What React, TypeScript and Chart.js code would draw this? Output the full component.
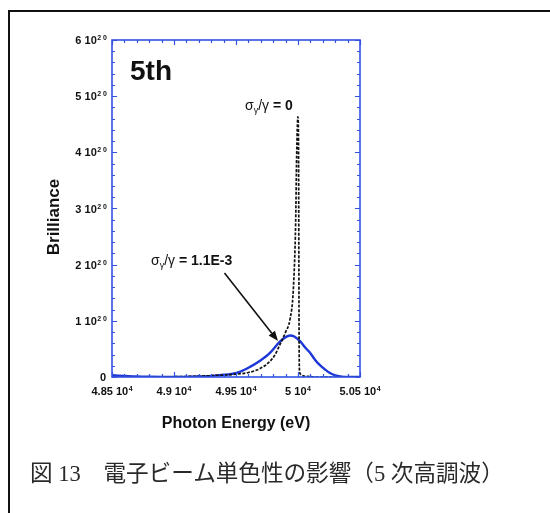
import React, { useEffect, useRef } from "react";
import { Chart, registerables } from "chart.js";

Chart.register(...registerables);

// Photon energy (eV) and brilliance (in units of 1e20) for sigma_gamma/gamma = 0
const energyIdeal = [48500, 48800, 49000, 49200, 49400, 49500, 49600, 49694, 49760, 49810, 49855, 49900, 49935, 49962, 49981, 49989, 49999, 50004, 50007, 50009, 50012, 50020, 50040, 50080, 50150, 50500];
const brillianceIdeal = [0, 0, 0.005, 0.015, 0.035, 0.05, 0.08, 0.15, 0.25, 0.38, 0.58, 0.8, 1.02, 1.55, 2.74, 3.92, 4.63, 4.2, 2.0, 0.6, 0.12, 0.05, 0.02, 0.01, 0, 0];

// sigma_gamma/gamma = 1.1E-3
const energySpread = [48500, 48600, 48700, 48800, 49000, 49200, 49300, 49400, 49452, 49530, 49613, 49694, 49774, 49850, 49900, 49935, 49970, 50020, 50060, 50097, 50140, 50177, 50220, 50258, 50300, 50340, 50400, 50500];
const brillianceSpread = [0.03, 0.02, 0.01, 0.005, 0, 0.01, 0.02, 0.04, 0.05, 0.09, 0.18, 0.29, 0.43, 0.62, 0.71, 0.74, 0.72, 0.63, 0.52, 0.43, 0.3, 0.21, 0.13, 0.07, 0.03, 0.01, 0, 0];

const xTickValues = [48500, 49000, 49500, 50000, 50500];
const xTickLabels = ["4.85 10", "4.9 10", "4.95 10", "5 10", "5.05 10"];
const xTickExp = "4";
const xMinorStep = 100;
const yTickValues = [0, 1, 2, 3, 4, 5, 6];
const yTickLabels = ["0", "1 10", "2 10", "3 10", "4 10", "5 10", "6 10"];
const yTickExp = "2 0";
const yMinorStep = 0.2;

const AXIS_BLUE = "#3353e6";
const LINE_BLUE = "#1d36d8";
const SANS = "'Liberation Sans', Arial, Helvetica, sans-serif";

const decorations = {
  id: "decorations",
  afterDatasetsDraw(chart: any) {
    const ctx = chart.ctx as CanvasRenderingContext2D;
    const { left, right, top, bottom } = chart.chartArea;
    const xs = chart.scales.x;
    const ys = chart.scales.y;
    ctx.save();
    // frame
    ctx.strokeStyle = AXIS_BLUE;
    ctx.lineWidth = 1.6;
    ctx.strokeRect(left, top, right - left, bottom - top);
    // ticks
    ctx.lineWidth = 1.2;
    ctx.beginPath();
    for (let v = xs.min; v <= xs.max + 1e-6; v += xMinorStep) {
      const px = Math.round(xs.getPixelForValue(v)) + 0.5;
      const major = xTickValues.some((t) => Math.abs(t - v) < 1e-6);
      const len = major ? 5 : 3;
      ctx.moveTo(px, bottom);
      ctx.lineTo(px, bottom - len);
      ctx.moveTo(px, top);
      ctx.lineTo(px, top + len);
    }
    for (let v = ys.min; v <= ys.max + 1e-6; v += yMinorStep) {
      const py = Math.round(ys.getPixelForValue(v)) + 0.5;
      const major = yTickValues.some((t) => Math.abs(t - v) < 1e-6);
      const len = major ? 5 : 3;
      ctx.moveTo(left, py);
      ctx.lineTo(left + len, py);
      ctx.moveTo(right, py);
      ctx.lineTo(right - len, py);
    }
    ctx.stroke();

    // y tick labels
    ctx.fillStyle = "#111";
    ctx.textBaseline = "alphabetic";
    yTickValues.forEach((v, i) => {
      const py = ys.getPixelForValue(v);
      const main = yTickLabels[i];
      if (v === 0) {
        ctx.font = `bold 11px ${SANS}`;
        ctx.textAlign = "right";
        ctx.fillText(main, 106, py + 4);
        return;
      }
      ctx.font = `bold 7px ${SANS}`;
      const ew = ctx.measureText(yTickExp).width;
      ctx.textAlign = "right";
      ctx.fillText(yTickExp, 107, py);
      ctx.font = `bold 11px ${SANS}`;
      ctx.fillText(main, 107 - ew - 0.5, py + 4);
    });

    // x tick labels
    xTickValues.forEach((v, i) => {
      const px = xs.getPixelForValue(v);
      ctx.font = `bold 11px ${SANS}`;
      const mw = ctx.measureText(xTickLabels[i]).width;
      ctx.font = `bold 7px ${SANS}`;
      const ew = ctx.measureText(xTickExp).width;
      const x0 = px - (mw + ew + 0.5) / 2;
      ctx.textAlign = "left";
      ctx.font = `bold 11px ${SANS}`;
      ctx.fillText(xTickLabels[i], x0, 395);
      ctx.font = `bold 7px ${SANS}`;
      ctx.fillText(xTickExp, x0 + mw + 0.5, 391);
    });

    // axis titles
    ctx.font = `bold 16px ${SANS}`;
    ctx.textAlign = "center";
    ctx.textBaseline = "middle";
    ctx.fillText("Photon Energy (eV)", (left + right) / 2, 424);
    ctx.save();
    ctx.translate(54, 217);
    ctx.rotate(-Math.PI / 2);
    ctx.font = `bold 17px ${SANS}`;
    ctx.fillText("Brilliance", 0, 0);
    ctx.restore();

    // "5th"
    ctx.textAlign = "left";
    ctx.textBaseline = "alphabetic";
    ctx.font = `bold 28px ${SANS}`;
    ctx.fillText("5th", 130, 80);

    // sigma labels
    const sigmaLabel = (x: number, y: number, value: string) => {
      let cx = x;
      ctx.font = `14px ${SANS}`;
      ctx.fillText("σ", cx, y);
      cx += ctx.measureText("σ").width;
      ctx.font = `9px ${SANS}`;
      ctx.fillText("γ", cx, y + 3);
      cx += ctx.measureText("γ").width;
      ctx.font = `14px ${SANS}`;
      ctx.fillText("/γ", cx, y);
      cx += ctx.measureText("/γ").width;
      ctx.font = `bold 14px ${SANS}`;
      ctx.fillText(" = " + value, cx, y);
    };
    sigmaLabel(245, 110, "0");
    sigmaLabel(151, 265, "1.1E-3");

    // arrow
    const ax0 = 224.5, ay0 = 273, ax1 = 278, ay1 = 341;
    ctx.strokeStyle = "#111";
    ctx.fillStyle = "#111";
    ctx.lineWidth = 1.6;
    const ang = Math.atan2(ay1 - ay0, ax1 - ax0);
    const hl = 10, hw = 4;
    ctx.beginPath();
    ctx.moveTo(ax0, ay0);
    ctx.lineTo(ax1 - hl * Math.cos(ang), ay1 - hl * Math.sin(ang));
    ctx.stroke();
    ctx.beginPath();
    ctx.moveTo(ax1, ay1);
    ctx.lineTo(ax1 - hl * Math.cos(ang) + hw * Math.sin(ang), ay1 - hl * Math.sin(ang) - hw * Math.cos(ang));
    ctx.lineTo(ax1 - hl * Math.cos(ang) - hw * Math.sin(ang), ay1 - hl * Math.sin(ang) + hw * Math.cos(ang));
    ctx.closePath();
    ctx.fill();
    ctx.restore();
  },
};

export default function App() {
  const canvasRef = useRef<HTMLCanvasElement>(null);

  useEffect(() => {
    const canvas = canvasRef.current;
    if (!canvas) return;
    const chart = new Chart(canvas, {
      type: "line",
      data: {
        datasets: [
          {
            label: "σγ/γ = 0",
            data: energyIdeal.map((e, i) => ({ x: e, y: brillianceIdeal[i] })),
            borderColor: "#111",
            borderWidth: 1.7,
            borderDash: [3, 1.5],
            pointRadius: 0,
            cubicInterpolationMode: "monotone",
            fill: false,
          },
          {
            label: "σγ/γ = 1.1E-3",
            data: energySpread.map((e, i) => ({ x: e, y: brillianceSpread[i] })),
            borderColor: LINE_BLUE,
            borderWidth: 2.4,
            pointRadius: 0,
            cubicInterpolationMode: "monotone",
            fill: false,
          },
        ],
      },
      options: {
        animation: false,
        responsive: false,
        maintainAspectRatio: false,
        layout: { padding: { left: 112, top: 40, right: 190, bottom: 136 } },
        plugins: { legend: { display: false }, tooltip: { enabled: false } },
        scales: {
          x: { type: "linear", min: 48500, max: 50500, display: false },
          y: { type: "linear", min: 0, max: 6, display: false },
        },
      },
      plugins: [decorations],
    });
    return () => chart.destroy();
  }, []);

  return (
    <div style={{ position: "absolute", left: 0, top: 0, width: 550, height: 513, overflow: "hidden", background: "#fff" }}>
      <div
        style={{
          position: "absolute",
          left: 8,
          top: 10,
          width: 600,
          height: 600,
          borderLeft: "2px solid #111",
          borderTop: "2px solid #111",
        }}
      />
      <canvas ref={canvasRef} width={550} height={513} style={{ position: "absolute", left: 0, top: 0 }} />
      <div
        style={{
          position: "absolute",
          left: 30,
          top: 460,
          fontFamily: "'Liberation Serif', 'Noto Sans CJK JP', serif",
          fontSize: 22.6,
          lineHeight: "28px",
          color: "#2a2a2a",
          whiteSpace: "nowrap",
        }}
      >
        図 13　電子ビーム単色性の影響（5 次高調波）
      </div>
    </div>
  );
}
